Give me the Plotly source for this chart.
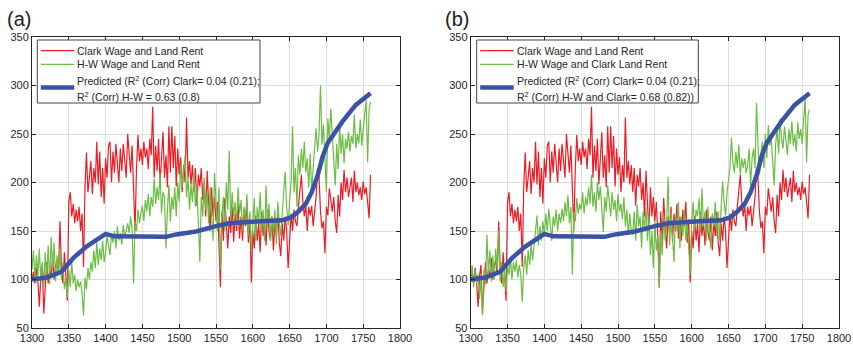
import plotly.graph_objects as go

# ---------------- data ----------------
years = list(range(1300, 1761, 2))

clark = [
    100, 108, 96, 112, 98,
    72, 104, 115, 65, 100,
    118, 96, 110, 104, 122,
    100, 114, 120, 105, 160,
    112, 96, 128, 104, 78,
    180, 190, 165, 178, 158,
    172, 160, 175, 150, 168,
    113, 195, 231, 190, 205,
    222, 188, 215, 200, 242,
    198, 232, 185, 215, 178,
    225, 205, 238, 242, 200,
    232, 210, 240, 218, 200,
    235, 212, 240, 225, 205,
    250, 228, 210, 238, 200,
    150, 215, 249, 222, 235,
    218, 242, 226, 235, 214,
    245, 228, 278, 205, 238,
    212, 245, 198, 232, 252,
    205, 228, 195, 258, 210,
    258, 215, 248, 196, 235,
    208, 226, 190, 218, 200,
    267, 205, 222, 198, 218,
    190, 215, 176, 208, 196,
    215, 182, 200, 165, 212,
    178, 150, 195, 165, 185,
    160, 180, 145, 92, 170,
    140, 184, 155, 132, 165,
    148, 175, 139, 168, 150,
    178, 142, 165, 140, 172,
    155, 180, 138, 162, 97,
    150, 132, 166, 140, 158,
    128, 170, 145, 160, 135,
    172, 150, 140, 165, 130,
    160, 145, 170, 138, 124,
    158, 140, 165, 150, 112,
    145, 168, 150, 172, 160,
    155, 175, 195, 208, 180,
    165, 177, 150, 175, 166,
    176, 155, 170, 185, 215,
    205, 170, 153, 160, 127,
    175, 166, 194, 180, 170,
    185, 160, 148, 187, 165,
    200, 182, 213, 190, 205,
    185, 198, 205, 180, 212,
    190, 200, 187, 195, 182,
    201, 188, 195, 180, 163,
    208,
]

hw_a = [
    110, 130, 100, 125, 104,
    132, 98, 118, 92, 128,
    100, 135, 95, 144, 112,
    138, 98, 125, 105, 132,
    100, 118, 90, 101, 82,
    110, 92, 118, 96, 105,
    88, 100, 92, 98, 86,
    63, 102, 90, 112, 100,
    118, 108, 130, 112, 138,
    115, 132, 120, 140, 118,
    128, 145, 135, 125, 148,
    138, 150, 132, 155, 140,
    148, 136, 156, 145, 150,
    158, 148, 165, 152, 96,
    160, 150, 172, 158, 168,
    176, 160, 182, 170, 188,
    165, 185, 175, 204, 178,
    195, 182, 210, 168, 190,
    185, 132, 172, 198, 160,
    185, 172, 195, 165, 200,
    180, 218, 195, 210, 228,
    185, 205, 172, 198, 180,
    210, 175, 195, 160, 118,
    185, 165, 205, 172, 190,
    158, 195, 170, 140, 210,
    175, 150, 195, 110, 165,
    185, 150, 200, 172, 233,
    160, 190, 165, 180, 155,
    195, 168, 182, 150, 175,
    160, 188, 145, 170, 130,
    165, 184, 140, 175, 158,
    190, 150, 172, 140, 197,
    155, 178, 140, 165, 148,
    172, 136, 180, 158, 145,
    168, 190, 211, 175, 156,
    180, 200, 258, 190, 215,
    175, 228, 208, 235, 215,
    242, 210, 225, 195, 230,
    190, 215, 240, 256, 232,
    250, 300, 239, 260, 225,
    190, 266, 245, 276, 250,
    225, 197, 240, 214, 259,
    230, 250, 220, 245, 235,
    252, 232, 248, 240, 270,
    235, 250, 240, 265, 238,
    255, 270, 285, 221, 275,
    283,
]

hw_b = [
    100, 115, 92, 110, 96,
    105, 80, 100, 63, 110,
    95, 146, 105, 130, 98,
    125, 100, 132, 110, 150,
    98, 118, 92, 112, 88,
    115, 105, 122, 100, 118,
    108, 120, 102, 115, 105,
    77, 112, 125, 105, 130,
    115, 136, 120, 140, 150,
    166, 135, 155, 140, 160,
    145, 168, 150, 173, 158,
    140, 165, 155, 172, 150,
    168, 158, 173, 160, 180,
    165, 187, 158, 175, 105,
    170, 160, 184, 168, 178,
    172, 190, 168, 185, 176,
    195, 178, 208, 175, 190,
    170, 200, 182, 196, 175,
    149, 185, 170, 197, 178,
    165, 190, 172, 182, 160,
    188, 170, 178, 162, 185,
    155, 172, 146, 168, 150,
    146, 170, 140, 177, 155,
    165, 132, 170, 150, 175,
    140, 166, 125, 150, 112,
    160, 130, 145, 91, 150,
    125, 166, 140, 158, 206,
    135, 170, 148, 118, 165,
    150, 180, 132, 165, 145,
    172, 140, 160, 130, 105,
    160, 180, 150, 172, 165,
    184, 148, 194, 155, 170,
    140, 175, 150, 132, 168,
    155, 180, 145, 170, 140,
    175, 201, 180, 166, 190,
    205, 215, 246, 220, 210,
    232, 215, 239, 208, 225,
    215, 225, 210, 218, 235,
    197, 225, 235, 215, 282,
    240, 208, 230, 242, 215,
    250, 225, 259, 238, 245,
    222, 197, 240, 255, 230,
    266, 245, 235, 258, 240,
    228, 255, 240, 263, 238,
    250, 232, 262, 245, 255,
    240, 265, 287, 221, 270,
    275,
]

pred_years = [1300, 1320, 1340, 1356, 1374, 1400, 1412, 1482, 1496, 1523, 1550,
              1568, 1610, 1640, 1652, 1662, 1672, 1680, 1688, 1695, 1702, 1712,
              1722, 1740, 1760]
pred_vals = [100, 102, 108, 122, 134, 147, 144.5, 144, 146.5, 149.5, 155,
             158, 160, 161, 164, 170, 178, 190, 207, 227, 241, 253,
             263, 280, 292]

x_ticks = list(range(1300, 1801, 50))
y_ticks = list(range(50, 351, 50))

name_red = "Clark Wage and Land Rent"
name_green_a = "H-W Wage and Land Rent"
name_green_b = "H-W Wage and Clark Land Rent"
pred_a_lines = ["Predicted (R<sup>2</sup> (Corr) Clark= 0.04 (0.21);",
                "R<sup>2</sup> (Corr) H-W = 0.63 (0.8)"]
pred_b_lines = ["Predicted (R<sup>2</sup> (Corr) Clark= 0.04 (0.21);",
                "R<sup>2</sup> (Corr) H-W and Clark= 0.68 (0.82))"]
panel_labels = ["(a)", "(b)"]

# ---------------- styles ----------------
RED = "#ED1C24"
GREEN = "#6CBD45"
BLUE = "#3A53A4"
AXC = "#262626"
GRID = "#DEDEDE"
FONT = "Liberation Sans, Arial, sans-serif"
W, H = 853, 352

fig = go.Figure()

def add_panel(xa, ya, green_vals, green_name):
    fig.add_trace(go.Scatter(x=years, y=clark, mode="lines", name=name_red,
                             line=dict(color=RED, width=1.2), xaxis=xa, yaxis=ya,
                             showlegend=False))
    fig.add_trace(go.Scatter(x=years, y=green_vals, mode="lines", name=green_name,
                             line=dict(color=GREEN, width=1.2), xaxis=xa, yaxis=ya,
                             showlegend=False))
    fig.add_trace(go.Scatter(x=pred_years, y=pred_vals, mode="lines", name="Predicted",
                             line=dict(color=BLUE, width=4.5), xaxis=xa, yaxis=ya,
                             showlegend=False))

add_panel("x", "y", hw_a, name_green_a)
add_panel("x2", "y2", hw_b, name_green_b)

ydom = [24 / H, 315 / H]

axis_common = dict(showgrid=True, gridcolor=GRID, gridwidth=1, zeroline=False,
                   showline=True, linecolor=AXC, linewidth=1, mirror="ticks",
                   ticks="inside", ticklen=4, tickcolor=AXC, automargin=False,
                   tickfont=dict(family=FONT, size=11, color=AXC))

# ---- hand-built legends (pixel layout -> paper coords) ----
def px(x):
    return x / W

def py(y):
    return 1 - y / H

shapes = []
annotations = []

def legend_box(x0, x1, green_name, pred_lines):
    shapes.append(dict(type="rect", xref="paper", yref="paper",
                       x0=px(x0), x1=px(x1), y0=py(103), y1=py(40),
                       line=dict(color="#444444", width=1), fillcolor="white",
                       layer="above"))
    sx0, sx1 = x0 + 3.5, x0 + 37
    tx = x0 + 39
    rows = [(50.7, RED, 1.2, name_red),
            (64.3, GREEN, 1.2, green_name)]
    for yc, col, lw, txt in rows:
        shapes.append(dict(type="line", xref="paper", yref="paper",
                           x0=px(sx0), x1=px(sx1), y0=py(yc), y1=py(yc),
                           line=dict(color=col, width=lw), layer="above"))
        annotations.append(dict(text=txt, x=px(tx), y=py(yc), xref="paper",
                                yref="paper", xanchor="left", yanchor="middle",
                                showarrow=False, borderpad=0,
                                font=dict(family=FONT, size=10.5, color=AXC)))
    shapes.append(dict(type="line", xref="paper", yref="paper",
                       x0=px(sx0), x1=px(sx1), y0=py(87.5), y1=py(87.5),
                       line=dict(color=BLUE, width=4.5), layer="above"))
    for yc, txt in zip([80.0, 96.5], pred_lines):
        annotations.append(dict(text=txt, x=px(tx), y=py(yc), xref="paper",
                                yref="paper", xanchor="left", yanchor="middle",
                                showarrow=False, borderpad=0,
                                font=dict(family=FONT, size=10.5, color=AXC)))

legend_box(37.3, 260, name_green_a, pred_a_lines)
legend_box(476.7, 698.3, name_green_b, pred_b_lines)

for lx, lab in zip([6, 444], panel_labels):
    annotations.append(dict(text=lab, x=px(lx), y=py(19), xref="paper", yref="paper",
                            xanchor="left", yanchor="middle", showarrow=False,
                            borderpad=0,
                            font=dict(family=FONT, size=20, color="#222222")))

fig.update_layout(
    width=W, height=H,
    margin=dict(l=0, r=0, t=0, b=0),
    paper_bgcolor="white", plot_bgcolor="white",
    showlegend=False,
    xaxis=dict(domain=[32 / W, 400 / W], range=[1300, 1800], tickvals=x_ticks,
               anchor="y", **axis_common),
    yaxis=dict(domain=ydom, range=[50, 350], tickvals=y_ticks, anchor="x",
               **axis_common),
    xaxis2=dict(domain=[470.7 / W, 839 / W], range=[1300, 1800], tickvals=x_ticks,
                anchor="y2", **axis_common),
    yaxis2=dict(domain=ydom, range=[50, 350], tickvals=y_ticks, anchor="x2",
                **axis_common),
    shapes=shapes,
    annotations=annotations,
)

fig.write_html("out.html")
